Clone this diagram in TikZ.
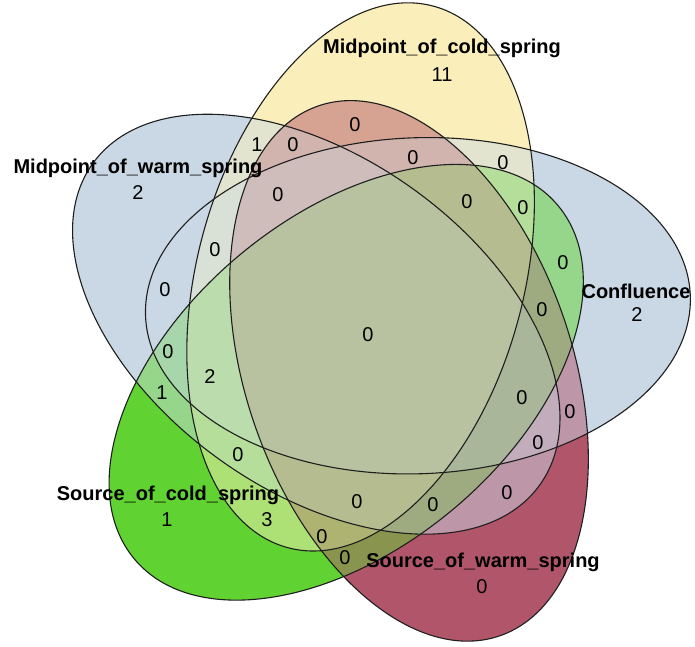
\documentclass[tikz,border=0pt]{standalone}
\usepackage{fontspec}
\setmainfont{Liberation Sans}
\usetikzlibrary{positioning}
\definecolor{outline}{RGB}{30,30,30}

% one set: the same ellipse turned about the middle of the diagram
\newcommand{\vennset}[2]{%
  \path[rotate=#1, #2] (-9.7,55.1) circle [x radius=281, y radius=168, rotate=74];}
% everything outside one set
\newcommand{\vennout}[1]{%
  \path[rotate=#1, clip] (-900,-900) rectangle (900,900)
    (-9.7,55.1) circle [x radius=281, y radius=168, rotate=74];}
% inside (1) or outside (0) of a set
\newcommand{\vennpick}[2]{\ifnum#2=1 \vennset{#1}{clip}\else\vennout{#1}\fi}

\tikzset{
  setname/.style={inner sep=0pt, font=\fontsize{20}{24}\selectfont\bfseries},
  count/.style={inner sep=0pt, font=\fontsize{20}{24}\selectfont}
}

\begin{document}
\begin{tikzpicture}[x=1pt, y=1pt]
    \useasboundingbox (0,0) rectangle (695,-646);

    \begin{scope}[shift={(370,-332)}, xscale=0.97]
        % each region gets the mean colour of the sets it lies in
        % set order: cold mid (yellow), warm mid, cold source, warm source, confluence
        \foreach \n in {1,...,31}{
            \pgfmathtruncatemacro\inA{mod(\n,2)}
            \pgfmathtruncatemacro\inB{mod(floor(\n/2),2)}
            \pgfmathtruncatemacro\inC{mod(floor(\n/4),2)}
            \pgfmathtruncatemacro\inD{mod(floor(\n/8),2)}
            \pgfmathtruncatemacro\inE{mod(floor(\n/16),2)}
            \pgfmathtruncatemacro\cnt{\inA+\inB+\inC+\inD+\inE}
            \pgfmathtruncatemacro\rch{round((\inA*250+\inB*201+\inC*96+\inD*177+\inE*201)/\cnt)}
            \pgfmathtruncatemacro\gch{round((\inA*239+\inB*216+\inC*211+\inD*86+\inE*216)/\cnt)}
            \pgfmathtruncatemacro\bch{round((\inA*186+\inB*228+\inC*50+\inD*106+\inE*228)/\cnt)}
            \definecolor{regionfill}{RGB}{\rch,\gch,\bch}
            \begin{scope}[even odd rule]
                \vennpick{0}{\inA}
                \vennpick{72}{\inB}
                \vennpick{144}{\inC}
                \vennpick{216}{\inD}
                \vennpick{288}{\inE}
                \fill[regionfill] (-900,-900) rectangle (900,900);
            \end{scope}
        }
        % outlines
        \foreach \r in {0,72,144,216,288}{
            \vennset{\r}{draw=outline, line width=1.1pt}
        }
    \end{scope}

    % Set names
    \node[setname] (coldmid) at (442,-48) {Midpoint\_of\_cold\_spring};
    \node[count] (coldmidn) at (442,-75) {11};
    \node[setname] (warmmid) at (138,-168) {Midpoint\_of\_warm\_spring};
    \node[count] (warmmidn) at (138,-193) {2};
    \node[setname] (confl) at (636,-291) {Confluence};
    \node[count] (confln) at (637,-315) {2};
    \node[setname] (coldsrc) at (168,-495) {Source\_of\_cold\_spring};
    \node[count] (coldsrcn) at (167,-520) {1};
    \node[setname] (warmsrc) at (483,-562) {Source\_of\_warm\_spring};
    \node[count] (warmsrcn) at (482,-587) {0};

    % Overlap counts
    \node[count] (c1) at (355,-125) {0};
    \node[count] (c2) at (257,-145) {1};
    \node[count] (c3) at (293,-145) {0};
    \node[count] (c4) at (413,-158) {0};
    \node[count] (c5) at (503,-163) {0};
    \node[count] (c6) at (278,-195) {0};
    \node[count] (c7) at (467,-202) {0};
    \node[count] (c8) at (523,-208) {0};
    \node[count] (c9) at (215,-250) {0};
    \node[count] (c10) at (563,-263) {0};
    \node[count] (c11) at (165,-290) {0};
    \node[count] (c12) at (542,-310) {0};
    \node[count] (c13) at (368,-335) {0};
    \node[count] (c14) at (168,-352) {0};
    \node[count] (c15) at (210,-377) {2};
    \node[count] (c16) at (162,-393) {1};
    \node[count] (c17) at (522,-398) {0};
    \node[count] (c18) at (570,-412) {0};
    \node[count] (c19) at (538,-443) {0};
    \node[count] (c20) at (238,-455) {0};
    \node[count] (c21) at (507,-493) {0};
    \node[count] (c22) at (357,-502) {0};
    \node[count] (c23) at (433,-505) {0};
    \node[count] (c24) at (267,-520) {3};
    \node[count] (c25) at (322,-537) {0};
    \node[count] (c26) at (345,-558) {0};
\end{tikzpicture}
\end{document}
